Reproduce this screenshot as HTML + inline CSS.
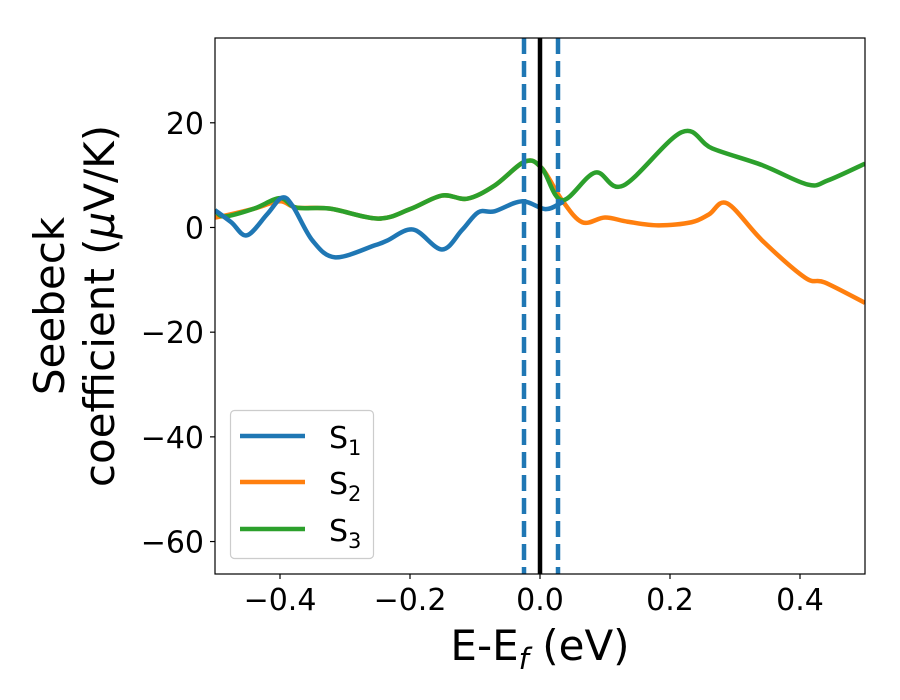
<!DOCTYPE html>
<html><head><meta charset="utf-8"><style>
html,body{margin:0;padding:0;background:#fff;}
svg{display:block;font-family:"DejaVu Sans","Liberation Sans",sans-serif;}
</style></head><body>
<svg id="chart" width="900" height="700" viewBox="0 0 900 700">
<rect width="900" height="700" fill="#fff"/>
<g id="plot"></g>
<g id="axes"></g>
<text x="540" y="660" font-size="42" text-anchor="middle">E-E<tspan font-style="italic" font-size="29" dy="9">f</tspan><tspan dy="-9"> (eV)</tspan></text>
<g transform="translate(0,306) rotate(-90)">
<text x="0" y="64" font-size="42" text-anchor="middle">Seebeck</text>
<text x="0" y="114" font-size="42" text-anchor="middle">coefficient  (<tspan font-style="italic">μ</tspan>V/K)</text>
</g>
<g>
<rect x="230.5" y="410.5" width="143" height="148" rx="4" fill="#fff" stroke="#ccc" stroke-width="1.2"/>
<g><line x1="240" y1="436" x2="305" y2="436" stroke="#1f77b4" stroke-width="4.5"/><text x="329" y="448" font-size="30">S<tspan font-size="21" dy="7">1</tspan></text></g>
<g><line x1="240" y1="482" x2="305" y2="482" stroke="#ff7f0e" stroke-width="4.5"/><text x="329" y="494" font-size="30">S<tspan font-size="21" dy="7">2</tspan></text></g>
<g><line x1="240" y1="529" x2="305" y2="529" stroke="#2ca02c" stroke-width="4.5"/><text x="329" y="541" font-size="30">S<tspan font-size="21" dy="7">3</tspan></text></g>
</g>
</svg>
<script>
const xTicks = [-0.4, -0.2, 0.0, 0.2, 0.4];
const xTickLabels = ["\u22120.4", "\u22120.2", "0.0", "0.2", "0.4"];
const yTicks = [20, 0, -20, -40, -60];
const yTickLabels = ["20", "0", "\u221220", "\u221240", "\u221260"];
const s1X = [-0.5,-0.475,-0.451,-0.42,-0.397,-0.38,-0.35,-0.315,-0.254,-0.235,-0.195,-0.151,-0.12,-0.095,-0.07,-0.028,0.008,0.031,0.036];
const s1Y = [3.3,1.0,-1.5,2.5,5.7,4.0,-2.5,-5.7,-3.4,-2.5,-0.4,-4.2,-0.5,2.9,3.1,5.0,3.5,4.6,5.0];
const s2X = [-0.5,-0.48,-0.44,-0.4,-0.375,-0.323,-0.249,-0.2,-0.151,-0.112,-0.07,-0.023,0.003,0.034,0.065,0.1,0.135,0.182,0.233,0.26,0.288,0.342,0.408,0.438,0.5];
const s2Y = [1.9,2.4,3.6,5.0,3.8,3.6,1.7,3.5,6.1,5.5,8.0,12.6,11.3,5.2,1.0,1.9,1.1,0.4,1.0,2.5,4.6,-2.5,-9.6,-10.5,-14.4];
const s3X = [-0.5,-0.485,-0.44,-0.4,-0.375,-0.323,-0.249,-0.2,-0.151,-0.112,-0.07,-0.023,0.003,0.034,0.085,0.128,0.218,0.265,0.342,0.412,0.443,0.5];
const s3Y = [3.3,2.1,3.6,5.6,3.8,3.6,1.7,3.5,6.1,5.5,8.0,12.6,11.3,5.2,10.5,8.0,18.2,15.1,11.9,8.2,9.0,12.2];
const vLinesDashed = [-0.0246, 0.0277];
const vLineSolid = [0.0];

const L=215, R=865, T=38, B=574, xMin=-0.5, xMax=0.5, yMin=-66.2, yMax=36.2;
const sx = v => L + (v - xMin) / (xMax - xMin) * (R - L);
const sy = v => T + (yMax - v) / (yMax - yMin) * (B - T);
const NS = "http://www.w3.org/2000/svg";
const plot = document.getElementById('plot'), axes = document.getElementById('axes');
function mk(tag, attrs, parent){const e=document.createElementNS(NS,tag);for(const k in attrs)e.setAttribute(k,attrs[k]);parent.appendChild(e);return e;}
const defs = mk('defs',{},plot);
const cp = mk('clipPath',{id:'clip'},defs);
mk('rect',{x:L,y:T,width:R-L,height:B-T},cp);
const g = mk('g',{'clip-path':'url(#clip)'},plot);
function smooth(xs, ys){
  const p = xs.map((x,i)=>[sx(x), sy(ys[i])]);
  let d = `M${p[0][0]},${p[0][1]}`;
  for(let i=0;i<p.length-1;i++){
    const p0=p[Math.max(0,i-1)], p1=p[i], p2=p[i+1], p3=p[Math.min(p.length-1,i+2)];
    const c1=[p1[0]+(p2[0]-p0[0])/6, p1[1]+(p2[1]-p0[1])/6];
    const c2=[p2[0]-(p3[0]-p1[0])/6, p2[1]-(p3[1]-p1[1])/6];
    d += ` C${c1[0]},${c1[1]} ${c2[0]},${c2[1]} ${p2[0]},${p2[1]}`;
  }
  return d;
}
const series = [[s2X,s2Y,'#ff7f0e','series-s2'],[s3X,s3Y,'#2ca02c','series-s3'],[s1X,s1Y,'#1f77b4','series-s1']];
for(const [xs,ys,c,n] of series){
  const el = mk('path',{d:smooth(xs,ys),fill:'none',stroke:c,'stroke-width':4.5,'stroke-linejoin':'round'},g);
  
  
}
for(const v of vLinesDashed){
  const el = mk('line',{x1:sx(v),x2:sx(v),y1:T,y2:B,stroke:'#1f77b4','stroke-width':4.5,'stroke-dasharray':'16,7'},g);
  
  
}
for(const v of vLineSolid){
  const el = mk('line',{x1:sx(v),x2:sx(v),y1:T,y2:B,stroke:'#000','stroke-width':4.5},g);
  
  
}
const frame = mk('rect',{x:L,y:T,width:R-L,height:B-T,fill:'none',stroke:'#000','stroke-width':1.2},axes);


xTicks.forEach((v,i)=>{
  mk('line',{x1:sx(v),x2:sx(v),y1:B,y2:B+5,stroke:'#000','stroke-width':1.2},axes);
  const t = mk('text',{x:sx(v),y:B+36,'font-size':30,'text-anchor':'middle'},axes);
  t.textContent = xTickLabels[i];
  
  
});
yTicks.forEach((v,i)=>{
  mk('line',{x1:L-5,x2:L,y1:sy(v),y2:sy(v),stroke:'#000','stroke-width':1.2},axes);
  const t = mk('text',{x:L-11,y:sy(v)+11,'font-size':30,'text-anchor':'end'},axes);
  t.textContent = yTickLabels[i];
  
  
});
</script>
</body></html>
